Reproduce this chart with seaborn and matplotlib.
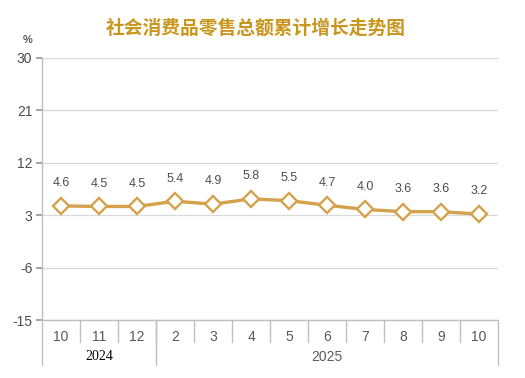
import matplotlib
matplotlib.use("Agg")
import matplotlib.pyplot as plt
import seaborn as sns
import pandas as pd
import numpy as np

months = ["10", "11", "12", "2", "3", "4", "5", "6", "7", "8", "9", "10"]
years = ["2024", "2025"]
year_counts = [3, 9]
values = [4.6, 4.5, 4.5, 5.4, 4.9, 5.8, 5.5, 4.7, 4.0, 3.6, 3.6, 3.2]
yticks = [30, 21, 12, 3, -6, -15]
title = "社会消费品零售总额累计增长走势图"

sns.set_theme(style="white")
plt.rcParams['font.family'] = ['Liberation Sans', 'Noto Sans CJK SC', 'DejaVu Sans']

df = pd.DataFrame({"x": np.arange(len(values)), "v": values})

fig = plt.figure(figsize=(5.25, 3.78), dpi=100)
ax = fig.add_axes([0.08, 0.1534, 0.8686, 0.6932])

line_color = "#D4A24C"
sns.lineplot(data=df, x="x", y="v", ax=ax, color=line_color, linewidth=2.4,
             marker="D", markersize=8.5, markerfacecolor="white",
             markeredgecolor=line_color, markeredgewidth=1.7, zorder=3)

ax.set_xlim(-0.5, len(values) - 0.5)
ax.set_ylim(min(yticks), max(yticks))
ax.set_yticks(yticks)
ax.set_yticklabels([str(t) for t in yticks], fontsize=10, color="#4D4D4D")
ax.tick_params(axis="y", length=4, color="#999999", pad=3, left=True)
for t in yticks:
    ax.axhline(t, color="#D9D9D9", linewidth=0.9, zorder=1)
ax.set_xticks([])
ax.set_xlabel("")
ax.set_ylabel("")
for s in ["top", "right", "bottom"]:
    ax.spines[s].set_visible(False)
ax.spines["left"].set_color("#BFBFBF")
ax.spines["left"].set_linewidth(1.0)

for i, v in enumerate(values):
    ax.annotate(f"{v:.1f}", (i, v), xytext=(0, 12), textcoords="offset points",
                ha="center", va="bottom", fontsize=9, color="#4D4D4D")

# category axis
trans = ax.get_xaxis_transform()
ax.plot([-0.5, len(values) - 0.5], [0, 0], transform=trans, color="#BFBFBF",
        linewidth=1.0, clip_on=False)
for i, m in enumerate(months):
    ax.text(i, -0.065, m, transform=trans, ha="center", va="center",
            fontsize=10, color="#595959")
for i in range(1, len(values)):
    ax.plot([i - 0.5, i - 0.5], [0, -0.085], transform=trans,
            color="#BFBFBF", linewidth=1.0, clip_on=False)
bounds = np.concatenate([[0], np.cumsum(year_counts)]) - 0.5
for b in bounds:
    ax.plot([b, b], [0, -0.17], transform=trans, color="#BFBFBF",
            linewidth=1.0, clip_on=False)
for k, y in enumerate(years):
    c = (bounds[k] + bounds[k + 1]) / 2
    if k == 0:
        ax.text(c, -0.14, y, transform=trans, ha="center", va="center",
                fontsize=10, color="black", family=["Liberation Serif"])
    else:
        ax.text(c, -0.14, y, transform=trans, ha="center", va="center",
                fontsize=10, color="#595959")

fig.text(0.052, 0.893, "%", ha="center", va="center", fontsize=8,
         fontweight="bold", color="#595959")
fig.text(0.487, 0.925, title, ha="center", va="center", fontsize=13.5,
         fontweight="bold", color="#C9961E",
         family=["Noto Sans CJK SC", "DejaVu Sans"])

fig.savefig("out.png", dpi=100)
